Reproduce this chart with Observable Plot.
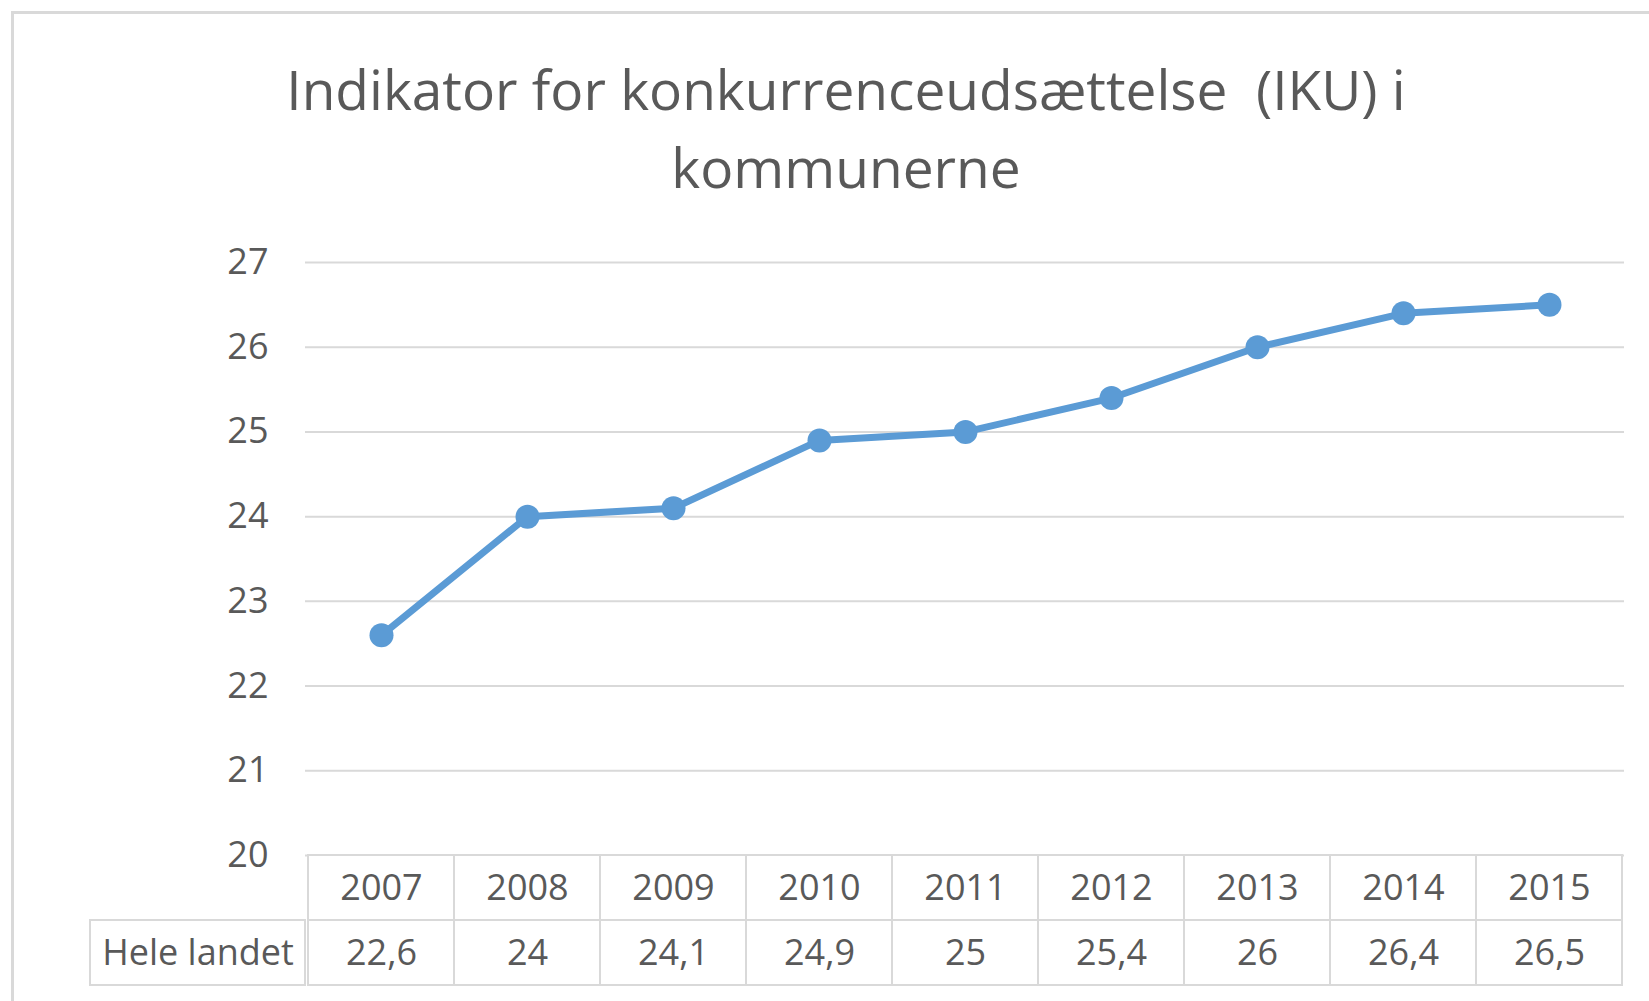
<!DOCTYPE html>
<html>
<head>
<meta charset="utf-8">
<script src="https://cdn.jsdelivr.net/npm/d3@7"></script>
<script src="https://cdn.jsdelivr.net/npm/@observablehq/plot@0.6"></script>
<style>
  html, body { margin: 0; padding: 0; background: #fff; width: 1649px; height: 1001px; overflow: hidden; }
  #frame { position: absolute; left: 11px; top: 11px; width: 1700px; height: 1100px; border: 3px solid #d9d9d9; box-sizing: border-box; }
  #title { position: absolute; left: 0; top: 50px; width: 1692px; text-align: center; font-family: "Open Sans", sans-serif; font-size: 55px; line-height: 78px; color: #595959; white-space: pre; }
  #chart { position: absolute; left: 0; top: 0; }
  #table { position: absolute; left: 0; top: 845px; }
  svg { overflow: visible; }
</style>
</head>
<body>
<div id="frame"></div>
<div id="title"></div>
<div id="chart"></div>
<div id="table"></div>
<script>
// ---- data ----
const titleLines = ["Indikator for konkurrenceudsættelse  (IKU) i", "kommunerne"];
const years = ["2007", "2008", "2009", "2010", "2011", "2012", "2013", "2014", "2015"];
const values = [22.6, 24, 24.1, 24.9, 25, 25.4, 26, 26.4, 26.5];
const seriesName = "Hele landet";
const yTicks = [20, 21, 22, 23, 24, 25, 26, 27];

// ---- style constants ----
const W = 1649;
const mLeft = 305, mRight = 25;
const labelCellLeft = 90;
const blue = "#5B9BD5";
const grid = "#d9d9d9";
const textColor = "#595959";
const font = "Open Sans";

document.getElementById("title").textContent = titleLines.join("\n");

const points = years.map((y, i) => ({year: y, value: values[i]}));

const chart = Plot.plot({
  width: W,
  height: 870,
  marginTop: 262,
  marginBottom: 15,
  marginLeft: mLeft,
  marginRight: mRight,
  style: {fontFamily: font, background: "transparent"},
  x: {type: "point", domain: years, padding: 0.5, axis: null},
  y: {domain: [20, 27], axis: null},
  marks: [
    Plot.gridY(yTicks, {stroke: grid, strokeOpacity: 1, strokeWidth: 2}),
    Plot.axisY(yTicks, {tickSize: 0, tickPadding: 37, fontSize: 36, color: textColor, fontFamily: font, label: null,
      tickFormat: d => String(d)}),
    Plot.line(points, {x: "year", y: "value", stroke: blue, strokeWidth: 7}),
    Plot.dot(points, {x: "year", y: "value", r: 12, fill: blue, stroke: "none"})
  ]
});
document.getElementById("chart").appendChild(chart);

const headerRow = "header";
const cells = [
  ...years.map(y => ({year: y, row: headerRow, label: y})),
  ...years.map((y, i) => ({year: y, row: seriesName, label: String(values[i]).replace(".", ",")}))
];

const frameWidth = W - mLeft - mRight;
const table = Plot.plot({
  width: W,
  height: 150,
  marginTop: 10,
  marginBottom: 10,
  marginLeft: mLeft,
  marginRight: mRight,
  style: {fontFamily: font, background: "transparent"},
  x: {type: "band", domain: years, padding: 0, axis: null},
  y: {type: "band", domain: [headerRow, seriesName], padding: 0, axis: null},
  marks: [
    Plot.cell([seriesName], {y: d => d, fill: "white", stroke: grid, strokeWidth: 2,
      insetLeft: -(mLeft - labelCellLeft), insetRight: frameWidth}),
    Plot.cell(cells, {x: "year", y: "row", fill: "white", stroke: grid, strokeWidth: 2}),
    Plot.text(cells, {x: "year", y: "row", text: "label", fontSize: 36, fill: textColor, fontFamily: font}),
    Plot.axisY([seriesName], {tickSize: 0, tickPadding: (mLeft - labelCellLeft) / 2, textAnchor: "middle",
      fontSize: 36, color: textColor, fontFamily: font, label: null})
  ]
});
document.getElementById("table").appendChild(table);
</script>
</body>
</html>
